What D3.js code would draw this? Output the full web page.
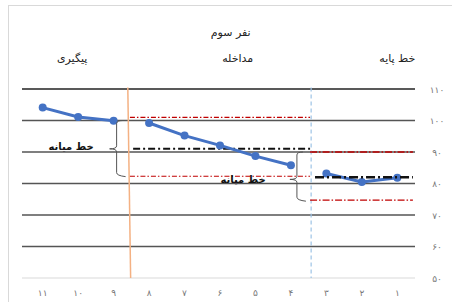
<!DOCTYPE html>
<html><head><meta charset="utf-8">
<script src="https://cdn.jsdelivr.net/npm/d3@7"></script>
<style>body{margin:0;background:#fff}svg{display:block}</style>
</head><body>
<svg id="c" width="452" height="302"></svg>
<script>
const categories = [11,10,9,8,7,6,5,4,3,2,1];
const categoryLabels = ["۱۱","۱۰","۹","۸","۷","۶","۵","۴","۳","۲","۱"];
const yTicks = [50,60,70,80,90,100,110];
const yTickLabels = ["۵۰","۶۰","۷۰","۸۰","۹۰","۱۰۰","۱۱۰"];
const followUpX = [11,10,9];
const followUpY = [104.1,101.1,99.9];
const interventionX = [8,7,6,5,4];
const interventionY = [99.2,95.2,92.1,88.7,85.8];
const baselineX = [3,2,1];
const baselineY = [83.2,80.5,81.8];
const interventionStats = {median:91, upper:101, lower:82.3};
const baselineStats = {median:82, upper:90, lower:74.7};
const phaseLabels = ["پیگیری","مداخله","خط پایه"];
const phaseCenters = [10.17,5.5,1];
const title = "نفر سوم";
const medianLabel = "خط میانه";

const svg = d3.select("#c");
const font = "DejaVu Sans, sans-serif";
svg.append("rect").attr("x",8.5).attr("y",5.5).attr("width",450).attr("height",300)
  .attr("fill","#fff").attr("stroke","#d9d9d9");

const x = d3.scaleLinear().domain([11,1]).range([42.7,397.3]);
const y = d3.scaleLinear().domain([50,110]).range([278,89]);
const gx0 = 22, gx1 = 415;

// gridlines
svg.append("g").selectAll("line").data(yTicks).join("line")
  .attr("x1",gx0).attr("x2",gx1).attr("y1",d=>y(d)).attr("y2",d=>y(d))
  .attr("stroke",d=>d===50?"#d9d9d9":(d===110?"#222":"#555"))
  .attr("stroke-width",d=>d===50?1:1.5);

// y tick labels
svg.append("g").selectAll("text").data(yTicks).join("text")
  .attr("x",437).attr("y",d=>y(d)+3.5).attr("text-anchor","middle")
  .attr("font-family",font).attr("font-size",9).attr("fill","#777")
  .text((d,i)=>yTickLabels[i]);

// x tick labels
svg.append("g").selectAll("text").data(categories).join("text")
  .attr("x",d=>x(d)).attr("y",296).attr("text-anchor","middle")
  .attr("font-family",font).attr("font-size",9).attr("fill","#777")
  .text((d,i)=>categoryLabels[i]);

// phase change lines
svg.append("line").attr("x1",x(8.6)).attr("x2",x(8.52)).attr("y1",y(110.5)).attr("y2",y(50))
  .attr("stroke","#f4b183").attr("stroke-width",1.5);
svg.append("line").attr("x1",x(3.43)).attr("x2",x(3.43)).attr("y1",y(110.5)).attr("y2",y(50))
  .attr("stroke","#9dc3e6").attr("stroke-width",1.2).attr("stroke-dasharray","4,3");

function hline(x0,x1,v,color,w,dash){
  svg.append("line").attr("x1",x(x0)).attr("x2",x(x1)).attr("y1",y(v)).attr("y2",y(v))
    .attr("stroke",color).attr("stroke-width",w).attr("stroke-dasharray",dash);
}
// intervention limits
hline(8.54,3.46,interventionStats.upper,"#c00000",1.2,"5,2,1.5,2");
hline(8.54,3.46,interventionStats.lower,"#c00000",1.2,"5,2,1.5,2");
hline(8.45,3.46,interventionStats.median,"#111",2,"7,3,2,3");
// baseline limits
hline(3.46,0.56,baselineStats.upper,"#c00000",1.5,"7,2,1.5,2");
hline(3.46,0.56,baselineStats.lower,"#c00000",1.2,"7,2,1.5,2");

// data lines
const line = d3.line().x(d=>x(d[0])).y(d=>y(d[1]));
const series = [
  d3.zip(followUpX,followUpY),
  d3.zip(interventionX,interventionY),
  d3.zip(baselineX,baselineY)
];
series.forEach(s=>{
  svg.append("path").datum(s).attr("d",line).attr("fill","none")
    .attr("stroke","#4472c4").attr("stroke-width",3).attr("stroke-linejoin","round");
  svg.append("g").selectAll("circle").data(s).join("circle")
    .attr("cx",d=>x(d[0])).attr("cy",d=>y(d[1])).attr("r",4).attr("fill","#4472c4");
});
hline(3.32,0.56,baselineStats.median,"#111",2.5,"9,3,2,3");

// braces
function brace(px,top,mid,bot){
  const p = d3.path();
  p.moveTo(px+6,top); p.quadraticCurveTo(px,top,px,top+3);
  p.lineTo(px,mid-3); p.quadraticCurveTo(px,mid,px-7,mid);
  p.quadraticCurveTo(px,mid,px,mid+3);
  p.lineTo(px,bot-3); p.quadraticCurveTo(px,bot,px+9,bot+1);
  svg.append("path").attr("d",p.toString()).attr("fill","none")
    .attr("stroke","#555").attr("stroke-width",1);
}
brace(x(9)+3,y(100),y(interventionStats.median),y(82.5));
brace(x(4)+6,y(baselineStats.upper),y(81.3),y(baselineStats.lower));

svg.append("text").attr("x",x(10.2)).attr("y",y(interventionStats.median)+1)
  .attr("text-anchor","middle").attr("font-family",font).attr("font-size",10)
  .attr("font-weight","bold").attr("fill","#111").text(medianLabel);
svg.append("text").attr("x",x(5.35)).attr("y",y(81.3)+3.5)
  .attr("text-anchor","middle").attr("font-family",font).attr("font-size",10)
  .attr("font-weight","bold").attr("fill","#111").text(medianLabel);

// titles
svg.append("text").attr("x",x(5.7)).attr("y",36).attr("text-anchor","middle")
  .attr("font-family",font).attr("font-size",11).attr("fill","#222").text(title);
svg.append("g").selectAll("text").data(phaseLabels).join("text")
  .attr("x",(d,i)=>x(phaseCenters[i])).attr("y",62).attr("text-anchor","middle")
  .attr("font-family",font).attr("font-size",11).attr("fill","#222").text(d=>d);
</script>
</body></html>
